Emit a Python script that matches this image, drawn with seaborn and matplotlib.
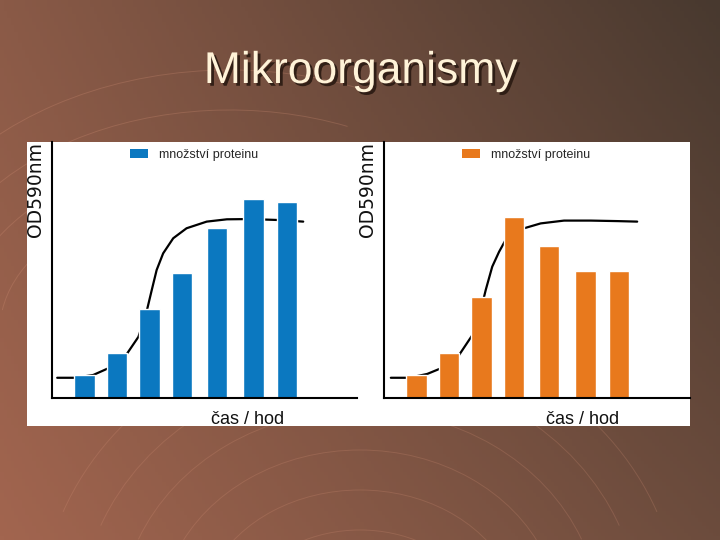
import numpy as np
import matplotlib
matplotlib.use('Agg')
import matplotlib.pyplot as plt
import matplotlib.patheffects as pe
from matplotlib.patches import Rectangle, Patch, Arc
import seaborn as sns

# data (time in hours, OD / protein in arbitrary units)
cas = [1.0, 2.0, 3.0, 4.0, 5.07, 6.2, 7.22]
protein_a = [0.90, 1.74, 3.46, 4.87, 6.63, 7.77, 7.67]
protein_b = [0.88, 1.74, 3.93, 7.06, 5.95, 4.96, 4.96]

krivka_a_x = [0.16, 0.71, 1.27, 1.73, 2.28, 2.66, 2.91, 3.07, 3.22, 3.42, 3.73, 4.14, 4.76, 5.38, 6.09, 7.02, 7.73]
krivka_a_y = [0.79, 0.79, 0.90, 1.16, 1.68, 2.39, 3.37, 4.22, 5.00, 5.65, 6.24, 6.63, 6.89, 6.98, 6.99, 6.95, 6.89]
krivka_b_x = [0.21, 0.77, 1.33, 1.79, 2.31, 2.72, 2.98, 3.13, 3.33, 3.54, 3.74, 4.31, 4.82, 5.54, 6.36, 7.18, 7.79]
krivka_b_y = [0.79, 0.79, 0.94, 1.18, 1.68, 2.46, 3.44, 4.22, 5.13, 5.71, 6.17, 6.63, 6.82, 6.93, 6.93, 6.91, 6.89]

title = "Mikroorganismy"
legend_label = "množství proteinu"
ylabel = "OD590nm"
xlabel = "čas / hod"

sns.set_style("white")
plt.rcParams['font.family'] = ['Liberation Sans', 'DejaVu Sans']

fig = plt.figure(figsize=(7.2, 5.4), dpi=100)

# slide background: brown gradient
bg = fig.add_axes([0, 0, 1, 1], zorder=0)
bg.set_axis_off()
tl = np.array([138, 90, 71]) / 255
tr = np.array([72, 57, 47]) / 255
bl = np.array([162, 101, 79]) / 255
br = np.array([108, 76, 61]) / 255
u = np.linspace(0, 1, 200)[None, :, None]
v = np.linspace(0, 1, 150)[:, None, None]
grad = (1 - v) * ((1 - u) * tl + u * tr) + v * ((1 - u) * bl + u * br)
bg.imshow(grad, extent=(0, 720, 540, 0), aspect='auto')
bg.set_xlim(0, 720)
bg.set_ylim(540, 0)

# faint wire-globe decoration
for r in range(60, 300, 40):
    bg.add_patch(Arc((230, 330), 2 * r + 180, 2 * r, theta1=185, theta2=300,
                     color='#d9957a', lw=0.7, alpha=0.25))
    bg.add_patch(Arc((360, 620), 2 * r + 120, 2 * r + 60, theta1=200, theta2=340,
                     color='#d9957a', lw=0.7, alpha=0.22))

bg.add_patch(Rectangle((27, 142), 663, 284, facecolor='white', edgecolor='none'))

fig.text(0.501, 1 - 83 / 540, title, ha='center', va='baseline', fontsize=32,
         color='#fff3d8',
         path_effects=[pe.withSimplePatchShadow(offset=(2, -2), shadow_rgbFace='#2a1a12', alpha=0.9)])


def panel(rect, xmax, values, cx, cy, color):
    ax = fig.add_axes(rect, zorder=2)
    ax.patch.set_alpha(0)
    sns.lineplot(x=cx, y=cy, ax=ax, color='black', lw=1.6, sort=False, zorder=0.9)
    sns.barplot(x=cas, y=values, ax=ax, native_scale=True, width=0.62,
                color=color, saturation=1, errorbar=None, zorder=1)
    ax.set_xlim(0, xmax)
    ax.set_ylim(0, 10)
    ax.set_xticks([])
    ax.set_yticks([])
    ax.set_xlabel('')
    ax.set_ylabel('')
    for s in ['top', 'right']:
        ax.spines[s].set_visible(False)
    for s in ['left', 'bottom']:
        ax.spines[s].set_color('black')
        ax.spines[s].set_linewidth(1.5)
    ax.legend(handles=[Patch(facecolor=color, edgecolor='none')], labels=[legend_label],
              loc='center left', bbox_to_anchor=(0.256, 0.951), frameon=False,
              fontsize=9, borderpad=0, borderaxespad=0, handlelength=1.44,
              handleheight=0.72, handletextpad=0.88)
    return ax


ax1 = panel([52 / 720, 142 / 540, 305 / 720, 256 / 540], 9.385, protein_a,
            krivka_a_x, krivka_a_y, '#0b78c0')
ax2 = panel([384 / 720, 142 / 540, 306 / 720, 256 / 540], 9.415, protein_b,
            krivka_b_x, krivka_b_y, '#e8791d')

for x in [35 / 720, 367 / 720]:
    fig.text(x, 1 - 142 / 540, ylabel, rotation=90, ha='center', va='top',
             fontsize=13.5, family=['DejaVu Sans'], color='#111111')
for x in [248 / 720, 583 / 720]:
    fig.text(x, 1 - 419 / 540, xlabel, ha='center', va='center', fontsize=13, color='#111111')

plt.savefig("out.png", dpi=100)
plt.close()
